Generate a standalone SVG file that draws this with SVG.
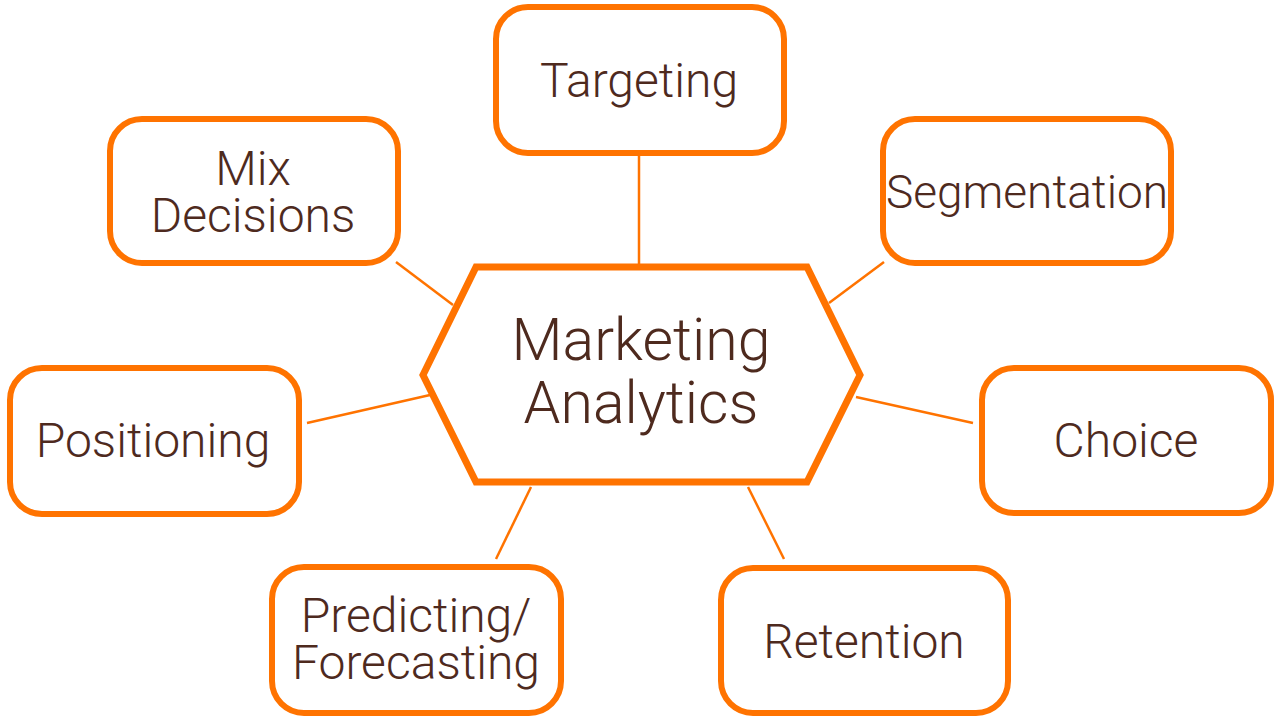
<svg xmlns="http://www.w3.org/2000/svg" width="1280" height="720" viewBox="0 0 1280 720">
<style>
.box{fill:#fff;stroke:#FF7300;stroke-width:6}
.hex{fill:#fff;stroke:#FF7300;stroke-width:7;stroke-linejoin:miter}
.conn line{stroke:#FF7300;stroke-width:2.5}
text{font-family:Roboto,"Liberation Sans",sans-serif;font-weight:300;fill:#4E2A1E;text-anchor:middle}
.t{font-size:48px}
.c{font-size:59px}
</style>
<rect width="1280" height="720" fill="#fff"/>
<g id="connectors" class="conn">
<line x1="639" y1="155" x2="639" y2="267"/>
<line x1="396" y1="262" x2="453" y2="305"/>
<line x1="884" y1="262" x2="829" y2="303"/>
<line x1="307" y1="423" x2="430" y2="395"/>
<line x1="856" y1="397" x2="973" y2="423"/>
<line x1="531" y1="487" x2="496" y2="559"/>
<line x1="748" y1="487" x2="784" y2="559"/>
</g>
<g id="center">
<polygon class="hex" points="476,267 807,267 860,375 807,482 476,482 423,375"/>
<text class="c" x="641" y="360">Marketing</text>
<text class="c" x="641" y="423">Analytics</text>
</g>
<g id="targeting">
<rect class="box" x="496" y="7" width="288" height="146" rx="32"/>
<text class="t" x="639" y="97">Targeting</text>
</g>
<g id="mix">
<rect class="box" x="110" y="119" width="288" height="144" rx="32"/>
<text class="t" x="253" y="185">Mix</text>
<text class="t" x="253" y="232">Decisions</text>
</g>
<g id="segmentation">
<rect class="box" x="883" y="119" width="288" height="144" rx="32"/>
<text class="t" x="1027" y="208" style="font-size:46px">Segmentation</text>
</g>
<g id="positioning">
<rect class="box" x="10" y="368" width="289" height="146" rx="32"/>
<text class="t" x="153" y="457">Positioning</text>
</g>
<g id="choice">
<rect class="box" x="982" y="368" width="289" height="145" rx="32"/>
<text class="t" x="1126" y="457">Choice</text>
</g>
<g id="predicting">
<rect class="box" x="272" y="567" width="289" height="146" rx="32"/>
<text class="t" x="416" y="632">Predicting/</text>
<text class="t" x="416" y="679">Forecasting</text>
</g>
<g id="retention">
<rect class="box" x="721" y="568" width="287" height="145" rx="32"/>
<text class="t" x="864" y="658">Retention</text>
</g>
</svg>
